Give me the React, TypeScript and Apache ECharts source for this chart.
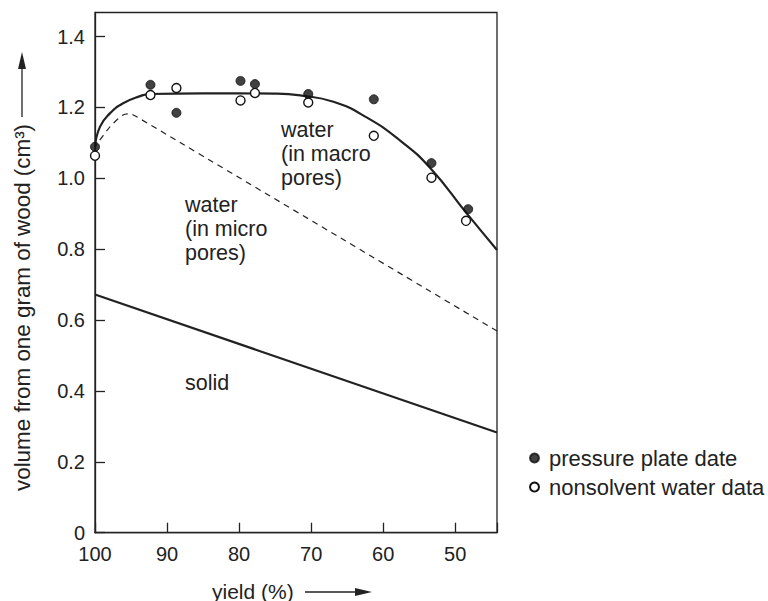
import React, { useEffect, useRef } from "react";
import * as echarts from "echarts";

// upper solid curve (total volume), ordered by increasing yield
const totalCurve: [number, number][] = [
  [44.2, 0.798], [48.4, 0.901], [53.5, 1.03], [57.6, 1.106], [62.3, 1.172], [66.9, 1.216],
  [71.5, 1.234], [75, 1.239], [85, 1.24], [92.4, 1.238], [93.75, 1.232], [96.1, 1.212],
  [97.9, 1.184], [99.3, 1.146], [100, 1.089],
];
// dashed curve (micro pores boundary)
const microCurve: [number, number][] = [
  [44.2, 0.569], [94.4, 1.176], [95.1, 1.182], [96.1, 1.179], [97.9, 1.146], [100, 1.089],
];
// solid lower line (solid volume)
const solidLine: [number, number][] = [
  [44.2, 0.283], [100, 0.672],
];
// pressure plate data (filled)
const pressurePlate: [number, number][] = [
  [100, 1.089], [92.3, 1.264], [88.7, 1.185], [79.8, 1.275], [77.8, 1.266],
  [70.4, 1.238], [61.3, 1.223], [53.3, 1.043], [48.2, 0.913],
];
// nonsolvent water data (open)
const nonsolvent: [number, number][] = [
  [100, 1.064], [92.3, 1.235], [88.7, 1.255], [79.8, 1.22], [77.8, 1.241],
  [70.4, 1.214], [61.3, 1.12], [53.3, 1.002], [48.5, 0.88],
];
const xTicks = [100, 90, 80, 70, 60, 50];
const yTicks = [0, 0.2, 0.4, 0.6, 0.8, 1.0, 1.2, 1.4];

const FONT = "Liberation Sans";
const INK = "#222";

export default function App() {
  const ref = useRef<HTMLDivElement>(null);
  useEffect(() => {
    if (!ref.current) return;
    const chart = echarts.init(ref.current, null, { renderer: "svg" });
    const arrowHead = (pts: number[][]) => ({
      type: "polygon",
      shape: { points: pts },
      style: { fill: INK },
    });
    chart.setOption({
      animation: false,
      textStyle: { fontFamily: FONT, color: INK },
      grid: {
        left: 95, right: 271, top: 12.5, bottom: 68.3,
        show: true, borderColor: INK, borderWidth: 1.3, backgroundColor: "transparent",
      },
      xAxis: {
        type: "value", inverse: true, min: 44.2, max: 100, minInterval: 10, maxInterval: 10,
        splitLine: { show: false },
        axisLine: { lineStyle: { color: INK, width: 1.3 } },
        axisTick: { inside: true, length: 10, lineStyle: { color: INK, width: 1.3 } },
        axisLabel: {
          fontSize: 20, color: INK, fontFamily: FONT, margin: 11,
          formatter: (v: number) => (xTicks.includes(Math.round(v * 100) / 100) ? String(v) : ""),
        },
      },
      yAxis: {
        type: "value", min: 0, max: 1.468, interval: 0.2,
        splitLine: { show: false },
        axisLine: { lineStyle: { color: INK, width: 1.3 } },
        axisTick: { inside: true, length: 10, lineStyle: { color: INK, width: 1.3 } },
        axisLabel: {
          fontSize: 20, color: INK, fontFamily: FONT, margin: 10, showMaxLabel: false,
          formatter: (v: number) => {
            const r = Math.round(v * 10) / 10;
            if (!yTicks.some((t) => Math.abs(t - v) < 1e-6)) return "";
            return r === 0 ? "0" : r.toFixed(1);
          },
        },
      },
      legend: {
        orient: "vertical", left: 524, top: 442, itemGap: 7,
        itemWidth: 9, itemHeight: 9,
        textStyle: { fontSize: 22, color: INK, fontFamily: FONT, padding: [0, 0, 0, 5] },
        data: [
          { name: "pressure plate date", icon: "circle" },
          { name: "nonsolvent water data", icon: "circle" },
        ],
      },
      series: [
        {
          type: "line", data: totalCurve, smooth: 0.5, symbol: "none",
          lineStyle: { color: INK, width: 2.2 }, z: 2,
        },
        {
          type: "line", data: microCurve, smooth: 0.25, symbol: "none",
          lineStyle: { color: INK, width: 1.2, type: [6, 5] }, z: 2,
        },
        {
          type: "line", data: solidLine, symbol: "none",
          lineStyle: { color: INK, width: 2.2 }, z: 2,
        },
        {
          name: "pressure plate date", type: "scatter", data: pressurePlate, symbolSize: 9,
          itemStyle: { color: "#111", borderColor: "#111", borderWidth: 1 }, z: 4,
        },
        {
          name: "nonsolvent water data", type: "scatter", data: nonsolvent, symbolSize: 9,
          itemStyle: { color: "#fff", borderColor: "#111", borderWidth: 1.4, opacity: 1 }, z: 5,
        },
      ],
      graphic: [
        {
          type: "text", x: 185, y: 229,
          style: {
            text: "water\n(in micro\npores)", font: `21.5px "${FONT}"`, fill: INK,
            lineHeight: 24, verticalAlign: "middle",
          },
        },
        {
          type: "text", x: 281, y: 154,
          style: {
            text: "water\n(in macro\npores)", font: `21.5px "${FONT}"`, fill: INK,
            lineHeight: 24, verticalAlign: "middle",
          },
        },
        {
          type: "text", x: 185, y: 383,
          style: { text: "solid", font: `21.5px "${FONT}"`, fill: INK, verticalAlign: "middle" },
        },
        {
          type: "text", x: 212, y: 591,
          style: { text: "yield (%)", font: `21px "${FONT}"`, fill: INK, verticalAlign: "middle" },
        },
        {
          type: "line", shape: { x1: 305, y1: 592, x2: 360, y2: 592 },
          style: { stroke: INK, lineWidth: 1.3 },
        },
        arrowHead([[372, 592], [355, 588], [355, 596]]),
        {
          type: "text", x: 22, y: 491, rotation: Math.PI / 2,
          style: {
            text: "volume from one gram of wood (cm³)", font: `22.4px "${FONT}"`, fill: INK,
            verticalAlign: "middle", align: "left",
          },
        },
        {
          type: "line", shape: { x1: 22, y1: 117, x2: 22, y2: 64 },
          style: { stroke: INK, lineWidth: 1.3 },
        },
        arrowHead([[22, 52], [18, 69], [26, 69]]),
      ],
    });
    return () => chart.dispose();
  }, []);
  return <div ref={ref} style={{ width: 768, height: 601, position: "absolute", left: 0, top: 0 }} />;
}
